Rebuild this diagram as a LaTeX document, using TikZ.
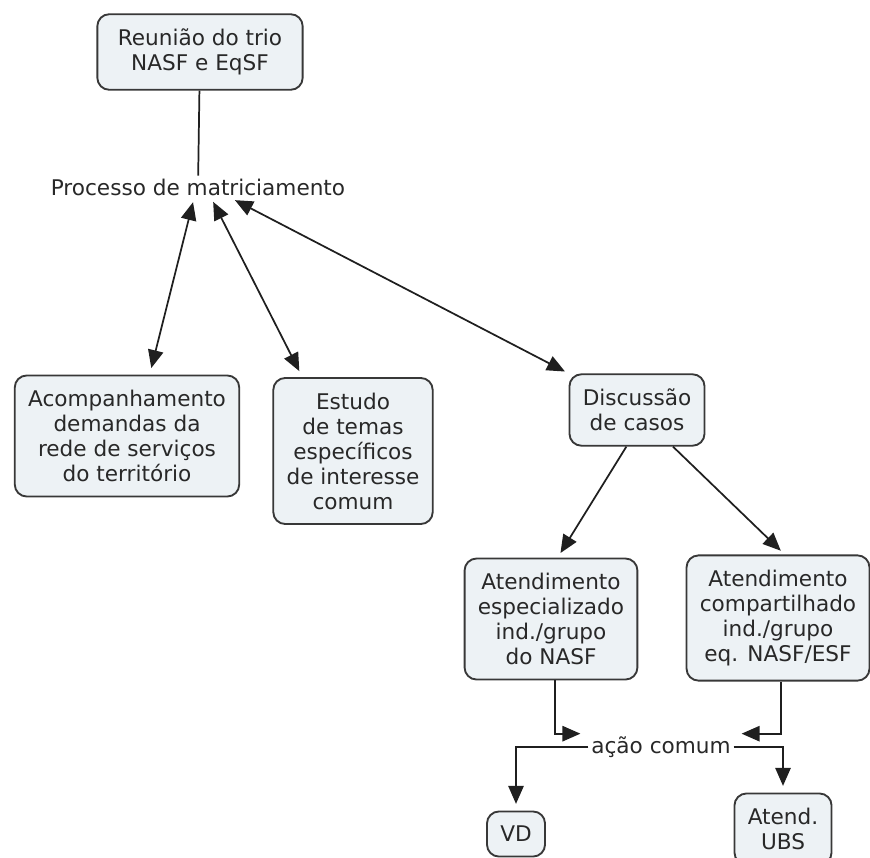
\documentclass[tikz,border=0pt]{standalone}
\usepackage{fontspec}
\usepackage{xcolor}
\usepackage{tikz}
\usetikzlibrary{arrows.meta,positioning}
\newfontfamily\mapfont{DejaVu Sans}
\definecolor{boxfill}{RGB}{237,242,245}
\definecolor{inkgray}{RGB}{40,40,40}

\begin{document}
\begin{tikzpicture}[
  x=0.75pt,
  y=-0.75pt,
  every node/.style={font=\mapfont\fontsize{16.2}{18.75}\selectfont, text=inkgray},
  concept/.style={draw=black!78, fill=boxfill, line width=1.4pt, rounded corners=9pt,
    align=center, inner xsep=10pt, inner ysep=11pt},
  phrase/.style={inner sep=2pt},
  link/.style={draw=black!88, line width=1.3pt},
  oneway/.style={link, -{Triangle[length=13.5pt,width=11.5pt]}},
  twoway/.style={link, {Triangle[length=13.5pt,width=11.5pt]}-{Triangle[length=13.5pt,width=11.5pt]}}
]
\useasboundingbox (0,0) rectangle (870,857);
% concepts
\node[concept, minimum width=154pt] (reuniao) at (200,52) {Reunião do trio\\NASF e EqSF};
\node[phrase] (processo) at (198,187) {Processo de matriciamento};
\node[concept] (acomp) at (127,436) {Acompanhamento\\demandas da\\rede de serviços\\do território};
\node[concept] (estudo) at (353,451) {Estudo\\de temas\\específicos\\de interesse\\comum};
\node[concept] (discussao) at (637,410) {Discussão\\de casos};
\node[concept] (especial) at (551,619) {Atendimento\\especializado\\ind./grupo\\do NASF};
\node[concept] (compart) at (778,618) {Atendimento\\compartilhado\\ind./grupo\\eq. NASF/ESF};
\node[phrase] (acao) at (661,747) {ação comum};
\node[concept] (vd) at (516,834) {VD};
\node[concept] (ubs) at (783,829) {Atend.\\UBS};
% links
\draw[link] (reuniao) -- (processo);
\draw[twoway, shorten <=3pt, shorten >=5pt] ([xshift=-3pt]processo.south) -- ([xshift=17pt]acomp.north);
\draw[twoway, shorten <=3pt, shorten >=5pt] ([xshift=10pt]processo.south) -- ([xshift=-38pt]estudo.north);
\draw[twoway, shorten <=3pt, shorten >=3pt] ([xshift=25pt]processo.south) -- (discussao.north west);
\draw[oneway, shorten >=4pt] ([xshift=-8pt]discussao.south) -- ([xshift=5pt]especial.north);
\draw[oneway, shorten >=4pt] ([xshift=27pt]discussao.south) -- ([xshift=5pt]compart.north);
\draw[oneway] ([xshift=3pt]especial.south) |- ([xshift=-6pt,yshift=10pt]acao.west);
\draw[oneway] ([xshift=2pt]compart.south) |- ([xshift=6pt,yshift=10pt]acao.east);
\draw[oneway, shorten >=5pt] (acao.west) -| (vd.north);
\draw[oneway, shorten >=5pt] (acao.east) -| (ubs.north);
\end{tikzpicture}
\end{document}
